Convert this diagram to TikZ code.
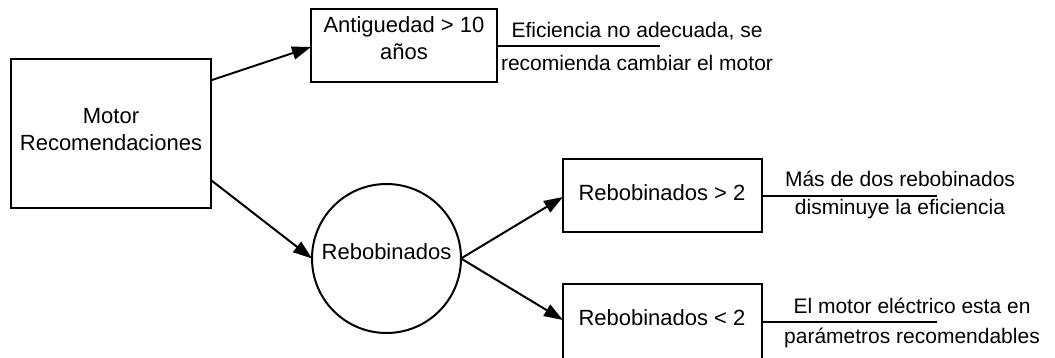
\documentclass[tikz,border=0pt]{standalone}
\usepackage{fontspec}
\setmainfont{Liberation Sans}
\usetikzlibrary{arrows.meta}
\begin{document}
\begin{tikzpicture}[x=1pt,y=-1pt,
  shapeline/.style={draw=black,line width=2pt,inner sep=0pt,outer sep=0pt},
  boxshape/.style={shapeline,rectangle},
  circshape/.style={shapeline,circle},
  boxtext/.style={inner sep=0pt,align=center,font=\fontsize{22}{26.7}\selectfont},
  notetext/.style={inner sep=0pt,align=center,font=\fontsize{21}{25.2}\selectfont},
  flow/.style={line width=2pt,-{Triangle[length=19pt,width=13pt]}},
  noteline/.style={line width=2pt}]
\clip (0,0) rectangle (1055,358);
\useasboundingbox (0,0) rectangle (1055,358);
% shapes
\node[boxshape,minimum width=200pt,minimum height=149pt] (motor) at (111,133.5) {};
\node[boxshape,minimum width=186pt,minimum height=73pt] (ant) at (404,45.5) {};
\node[circshape,minimum size=149pt] (reb) at (386.5,258.5) {};
\node[boxshape,minimum width=199pt,minimum height=73pt] (rb1) at (662.5,195.5) {};
\node[boxshape,minimum width=199pt,minimum height=76pt] (rb2) at (662.5,322) {};
% texts
\node[boxtext] (motortxt) at (111,129.5) {Motor\\Recomendaciones};
\node[boxtext,font=\fontsize{22}{27}\selectfont] (anttxt) at (404,38.5) {Antiguedad > 10\\años};
\node[boxtext,anchor=base] (rebtxt) at (386.5,260) {Rebobinados};
\node[boxtext,anchor=base] (rb1txt) at (662,200.7) {Rebobinados > 2};
\node[boxtext,anchor=base] (rb2txt) at (662,325) {Rebobinados < 2};
% annotation texts
\node[notetext] (n1) at (637,46.9) {Eficiencia no adecuada, se\\[7.8pt]recomienda cambiar el motor};
\node[notetext] (n2) at (900,194.9) {Más de dos rebobinados\\[2.1pt]disminuye la eficiencia};
\node[notetext] (n3) at (912,322.9) {El motor eléctrico esta en\\[4.8pt]parámetros recomendables};
% annotation line ends
\coordinate (e1) at (660,46);
\coordinate (e2) at (937,196);
\coordinate (e3) at (937,322);
\draw[noteline] (ant.east |- e1) -- (e1);
\draw[noteline] (rb1.east |- e2) -- (e2);
\draw[noteline] (rb2.east |- e3) -- (e3);
% arrows
\draw[flow] (motor.28.4) -- ([yshift=-1.5pt]ant.west);
\draw[flow] (motor.-25.6) -- (reb.west);
\draw[flow] (reb.east) -- ([yshift=-1.5pt]rb1.west);
\draw[flow] (reb.east) -- ([yshift=2pt]rb2.west);
\end{tikzpicture}
\end{document}
